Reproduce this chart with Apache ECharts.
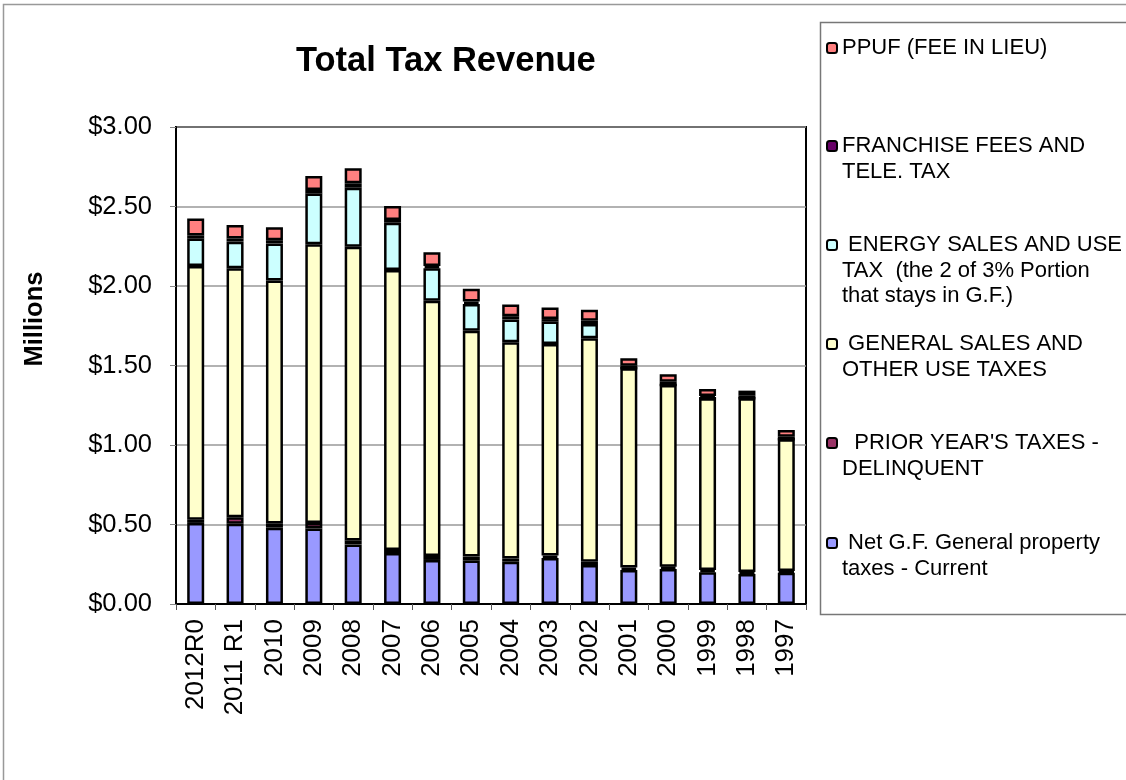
<!DOCTYPE html>
<html>
<head>
<meta charset="utf-8">
<title>Total Tax Revenue</title>
<script src="https://cdn.jsdelivr.net/npm/echarts@6/dist/echarts.min.js"></script>
<style>
  html, body { margin: 0; padding: 0; background: #fff; }
  #chart { width: 1126px; height: 780px; }
</style>
</head>
<body>
<div id="chart"></div>
<script>
// Fiscal years, left to right
const years = ['2012R0', '2011 R1', '2010', '2009', '2008', '2007', '2006', '2005',
  '2004', '2003', '2002', '2001', '2000', '1999', '1998', '1997']

// Revenue by source, millions of dollars (stack order bottom -> top)
const propertyCurrent = [0.51, 0.505, 0.48, 0.475, 0.375, 0.32, 0.277, 0.273, 0.266, 0.29, 0.245, 0.214, 0.22, 0.199, 0.189, 0.197]
const priorDelinquent = [0.02, 0.04, 0.027, 0.035, 0.025, 0.02, 0.025, 0.025, 0.02, 0.015, 0.02, 0.015, 0.015, 0.015, 0.012, 0.01]
const generalSales = [1.596, 1.566, 1.527, 1.752, 1.847, 1.761, 1.606, 1.421, 1.36, 1.33, 1.406, 1.253, 1.142, 1.08, 1.093, 0.829]
const energySales = [0.172, 0.168, 0.234, 0.319, 0.371, 0.297, 0.203, 0.168, 0.144, 0.141, 0.09, 0, 0, 0, 0, 0]
const franchiseFees = [0.02, 0.02, 0.02, 0.023, 0.028, 0.017, 0.015, 0.015, 0.02, 0.016, 0.02, 0.017, 0.021, 0.014, 0.019, 0.016]
const ppuf = [0.107, 0.084, 0.082, 0.088, 0.094, 0.088, 0.086, 0.08, 0.074, 0.072, 0.07, 0.046, 0.047, 0.044, 0.029, 0.042]

const seriesDefs = [
  { name: 'Net G.F. General property taxes - Current', data: propertyCurrent, color: '#9999ff',
    label: ' Net G.F. General property\ntaxes - Current' },
  { name: "PRIOR YEAR'S TAXES - DELINQUENT", data: priorDelinquent, color: '#993366',
    label: "  PRIOR YEAR'S TAXES -\nDELINQUENT" },
  { name: 'GENERAL SALES AND OTHER USE TAXES', data: generalSales, color: '#ffffcc',
    label: ' GENERAL SALES AND\nOTHER USE TAXES' },
  { name: 'ENERGY SALES AND USE TAX', data: energySales, color: '#ccffff',
    label: ' ENERGY SALES AND USE\nTAX  (the 2 of 3% Portion\nthat stays in G.F.)' },
  { name: 'FRANCHISE FEES AND TELE. TAX', data: franchiseFees, color: '#660066',
    label: 'FRANCHISE FEES AND\nTELE. TAX' },
  { name: 'PPUF (FEE IN LIEU)', data: ppuf, color: '#ff8080',
    label: 'PPUF (FEE IN LIEU)' }
]

const FONT = 'Liberation Sans, Arial, sans-serif'
const LINE_H = 25.5

// legend rows, centre of first text line (px), top entry first
const legendRows = [
  { idx: 5, y: 48 },
  { idx: 4, y: 146 },
  { idx: 3, y: 245 },
  { idx: 2, y: 344 },
  { idx: 1, y: 443 },
  { idx: 0, y: 543 }
]

const chart = echarts.init(document.getElementById('chart'))

// one legend per entry so rows keep the fixed spacing of the original;
// blank lines are prepended so the marker lines up with the first text line
const legends = legendRows.map(row => {
  const def = seriesDefs[row.idx]
  const n = def.label.split('\n').length
  const text = '\n'.repeat(n - 1) + def.label
  return {
    data: [def.name],
    left: 826,
    top: row.y - (2 * n - 1) * LINE_H / 2,
    padding: 0,
    itemWidth: 10,
    itemHeight: 10,
    itemGap: 0,
    selectedMode: false,
    formatter: () => text,
    textStyle: { fontFamily: FONT, fontSize: 22, color: '#000', lineHeight: LINE_H }
  }
})

const option = {
  animation: false,
  backgroundColor: '#fff',
  title: {
    text: 'Total Tax Revenue',
    left: 296,
    top: 44,
    padding: 0,
    textStyle: { fontFamily: FONT, fontSize: 34.5, fontWeight: 'bold', color: '#000' }
  },
  legend: legends,
  graphic: [
    { type: 'rect', shape: { x: 3.5, y: 4.5, width: 1160, height: 820 },
      style: { fill: 'none', stroke: '#999', lineWidth: 1.5 }, silent: true },
    { type: 'rect', shape: { x: 820.5, y: 22.5, width: 340, height: 592 },
      style: { fill: 'none', stroke: '#777', lineWidth: 1.5 }, silent: true },
    { type: 'text', x: 35, y: 319, rotation: Math.PI / 2, silent: true,
      style: { text: 'Millions', fontFamily: FONT, fontSize: 25.5, fontWeight: 'bold',
        fill: '#000', align: 'center', verticalAlign: 'middle' } }
  ],
  grid: {
    left: 176,
    right: 320,
    top: 127,
    bottom: 176,
    show: true,
    borderColor: '#000',
    borderWidth: 2,
    backgroundColor: 'transparent'
  },
  xAxis: {
    type: 'category',
    data: years,
    axisLine: { lineStyle: { color: '#000', width: 2 } },
    axisTick: { show: true, length: 6, lineStyle: { color: '#555' } },
    axisLabel: {
      rotate: 90,
      margin: 15,
      fontFamily: FONT,
      fontSize: 26,
      color: '#000'
    }
  },
  yAxis: {
    type: 'value',
    min: 0,
    max: 3,
    interval: 0.5,
    axisLine: { show: true, lineStyle: { color: '#000', width: 2 } },
    axisTick: { show: true, length: 6, lineStyle: { color: '#888' } },
    axisLabel: {
      margin: 24,
      fontFamily: FONT,
      fontSize: 25.5,
      color: '#000',
      formatter: v => '$' + v.toFixed(2)
    },
    splitLine: { lineStyle: { color: '#999', width: 1.5 } }
  },
  series: seriesDefs.map(def => ({
    name: def.name,
    type: 'bar',
    stack: 'total',
    barWidth: 17,
    data: def.data,
    itemStyle: { color: def.color, borderColor: '#000', borderWidth: 2.5 }
  }))
}

chart.setOption(option)
</script>
</body>
</html>
